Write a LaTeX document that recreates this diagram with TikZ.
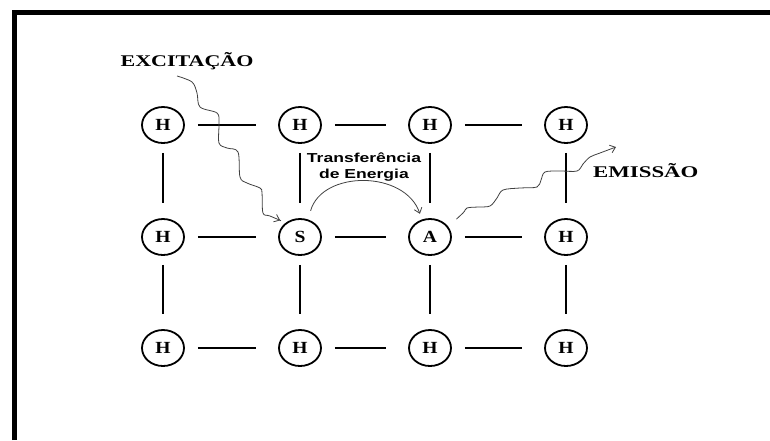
\documentclass[tikz,border=0pt]{standalone}
\usepackage{fontspec}
\setmainfont{Liberation Serif}
\setsansfont{Liberation Sans}
\usetikzlibrary{shapes.geometric,arrows.meta}
\newcommand{\esticar}[2][1.35]{\scalebox{#1}[1]{#2}}

\begin{document}
\begin{tikzpicture}[
  x=1pt, y=-1pt,
  atom/.style={draw, ellipse, line width=1.8pt, minimum width=42pt, minimum height=36pt, inner sep=0pt, font=\bfseries\fontsize{17}{17}\selectfont},
  hbond/.style={line width=1.8pt, shorten <=13pt, shorten >=22pt},
  vbond/.style={line width=1.8pt, shorten <=9pt, shorten >=15pt},
  wave/.style={draw=black!75, line width=0.8pt, -{Straight Barb[length=5pt,width=8pt]}},
  tag/.style={font=\bfseries\fontsize{16.3}{20}\selectfont, inner sep=0pt}
]
\useasboundingbox (0,0) rectangle (770,440);
\draw[line width=5pt] (14.5,440) -- (14.5,12.5) -- (770,12.5);

% rede cristalina
\node[atom] (h11) at (163,125) {\esticar[1.15]{H}};
\node[atom] (h12) at (300,125) {\esticar[1.15]{H}};
\node[atom] (h13) at (430,125) {\esticar[1.15]{H}};
\node[atom] (h14) at (566,125) {\esticar[1.15]{H}};

\node[atom] (h21) at (163,237) {\esticar[1.15]{H}};
\node[atom] (sens) at (300,237) {\esticar[1.15]{S}};
\node[atom] (ativ) at (430,237) {\esticar[1.15]{A}};
\node[atom] (h24) at (566,237) {\esticar[1.15]{H}};

\node[atom] (h31) at (163,348) {\esticar[1.15]{H}};
\node[atom] (h32) at (300,348) {\esticar[1.15]{H}};
\node[atom] (h33) at (430,348) {\esticar[1.15]{H}};
\node[atom] (h34) at (566,348) {\esticar[1.15]{H}};

\draw[hbond] (h11) -- (h12);
\draw[hbond] (h12) -- (h13);
\draw[hbond] (h13) -- (h14);
\draw[hbond] (h21) -- (sens);
\draw[hbond] (sens) -- (ativ);
\draw[hbond] (ativ) -- (h24);
\draw[hbond] (h31) -- (h32);
\draw[hbond] (h32) -- (h33);
\draw[hbond] (h33) -- (h34);

\draw[vbond] (h11) -- (h21);
\draw[vbond] (h12) -- (sens);
\draw[vbond] (h13) -- (ativ);
\draw[vbond] (h14) -- (h24);
\draw[vbond] (h21) -- (h31);
\draw[vbond] (sens) -- (h32);
\draw[vbond] (ativ) -- (h33);
\draw[vbond] (h24) -- (h34);

% textos
\node[tag, anchor=base] (exc) at (187,66) {\esticar{EXCITAÇÃO}};
\node[tag, anchor=base west] (emi) at (593,177) {\esticar[1.4]{EMISSÃO}};
\node[font=\sffamily\bfseries\fontsize{13}{16}\selectfont, align=center, inner sep=0pt] (transf) at (364,167) {\esticar{Transferência}\\\esticar{de Energia}};

% setas
\coordinate (excstart) at (177,76);
\coordinate (emiend) at (616,147);
\draw[wave, shorten >=6pt] plot[smooth, tension=0.55] coordinates {(excstart) (192,82) (197,93) (200,107) (217,113) (219,123) (219,143) (227,148) (238,152) (240,177) (247,183) (260,188) (262,193) (263,213) (270,216) (sens.135)};
\draw[wave, shorten <=9pt, shorten >=6pt] (sens.65) .. controls (322,170) and (405,170) .. (ativ.115);
\draw[wave, shorten <=11pt] plot[smooth, tension=0.55] coordinates {(ativ.30) (463,213) (467,208) (478,207) (490,206) (497,198) (503,190) (520,188) (537,187) (541,180) (545,172) (560,171) (577,171) (583,164) (590,157) (600,153) (emiend)};
\end{tikzpicture}
\end{document}
